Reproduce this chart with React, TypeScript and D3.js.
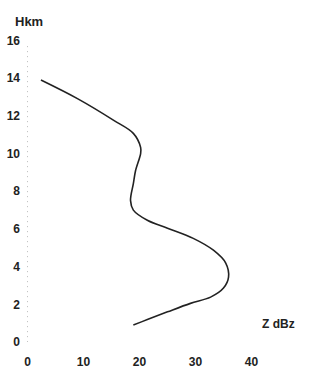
import React, { useEffect, useRef } from 'react';
import * as d3 from 'd3';

// reflectivity profile (Z in dBz, H in km)
const zValues = [2.4, 9, 15.4, 18.9, 20.2, 20.2, 19.3, 18.9, 18.4, 18.9, 21.4, 25, 29.6, 33.2, 35.4, 35.9, 35, 32.7, 29.1, 25, 21.4, 18.9];
const hValues = [13.9, 12.9, 11.76, 11.07, 10.33, 10.0, 9.1, 8.4, 7.5, 7.0, 6.46, 6.04, 5.5, 4.87, 4.19, 3.44, 2.86, 2.38, 2.05, 1.6, 1.19, 0.9];
const xTicks = [0, 10, 20, 30, 40];
const yTicks = [0, 2, 4, 6, 8, 10, 12, 14, 16];

function App() {
  const svgRef = useRef<SVGSVGElement>(null);

  useEffect(() => {
    const svg = d3.select(svgRef.current);
    svg.selectAll('*').remove();
    const font = 'Liberation Sans, Arial, sans-serif';

    const x = d3.scaleLinear().domain([0, 40]).range([27.5, 251.5]);
    const y = d3.scaleLinear().domain([0, 16]).range([342, 40.5]);

    // faint dotted y axis
    svg.append('line')
      .attr('x1', x(0)).attr('x2', x(0))
      .attr('y1', y(15.7)).attr('y2', y(0))
      .attr('stroke', '#bbb')
      .attr('stroke-width', 1)
      .attr('stroke-dasharray', '1,4');

    svg.append('g')
      .selectAll('text')
      .data(yTicks)
      .enter()
      .append('text')
      .attr('x', 20)
      .attr('y', d => y(d))
      .attr('dy', '0.35em')
      .attr('text-anchor', 'end')
      .attr('font-family', font)
      .attr('font-weight', 'bold')
      .attr('font-size', 12)
      .attr('fill', '#222')
      .text(d => d);

    svg.append('g')
      .selectAll('text')
      .data(xTicks)
      .enter()
      .append('text')
      .attr('x', d => x(d))
      .attr('y', 362)
      .attr('dy', '0.35em')
      .attr('text-anchor', 'middle')
      .attr('font-family', font)
      .attr('font-weight', 'bold')
      .attr('font-size', 12)
      .attr('fill', '#222')
      .text(d => d);

    svg.append('text')
      .attr('x', 15).attr('y', 26)
      .attr('font-family', font)
      .attr('font-weight', 'bold')
      .attr('font-size', 13)
      .attr('fill', '#222')
      .text('Hkm');

    svg.append('text')
      .attr('x', 262).attr('y', 328)
      .attr('font-family', font)
      .attr('font-weight', 'bold')
      .attr('font-size', 12)
      .attr('fill', '#222')
      .text('Z dBz');

    const pts: [number, number][] = zValues.map((z, i) => [z, hValues[i]]);
    const line = d3.line<[number, number]>()
      .x(d => x(d[0]))
      .y(d => y(d[1]))
      .curve(d3.curveCatmullRom.alpha(0.5));

    svg.append('path')
      .datum(pts)
      .attr('d', line)
      .attr('fill', 'none')
      .attr('stroke', '#222')
      .attr('stroke-width', 1.6);
  }, []);

  return (
    <svg
      ref={svgRef}
      width="333"
      height="371"
      style={{ position: 'absolute', left: 0, top: 0, background: '#fff' }}
    ></svg>
  );
}

export default App;
